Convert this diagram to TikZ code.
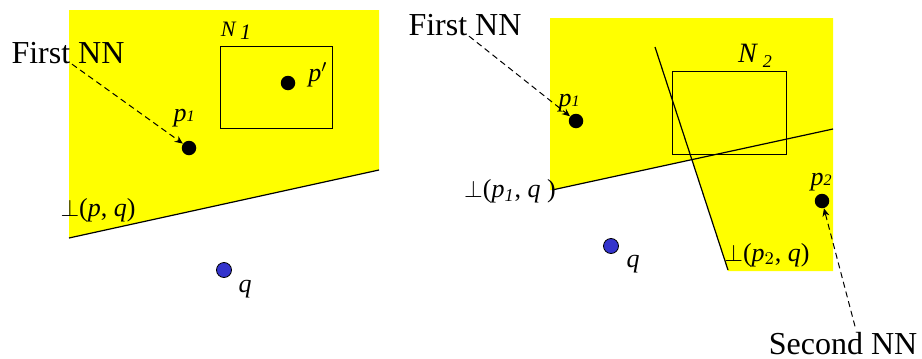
\documentclass[tikz,border=0pt]{standalone}
\usepackage{fontspec}
\setmainfont{Liberation Serif}
\usepackage{xcolor}
\definecolor{regionyellow}{RGB}{255, 255, 0}
\definecolor{querblue}{RGB}{51, 51, 204}
\usepackage{tikz}
\usetikzlibrary{arrows.meta, positioning, calc}

\tikzset{
    ptdot/.style={circle, fill=black, inner sep=0pt, minimum size=14.5pt*0.5},
    qdot/.style={circle, fill=querblue, draw=black, line width=0.4pt, inner sep=0pt, minimum size=15pt*0.5},
    lbl/.style={inner sep=0pt, font=\fontsize{13}{15}\selectfont},
    nnlbl/.style={inner sep=0pt, font=\fontsize{16}{18}\selectfont},
    nnarrow/.style={dashed, -{Stealth[length=4pt, width=3.5pt]}, line width=0.5pt, dash pattern=on 3pt off 2pt},
    bisector/.style={line width=0.6pt, black},
    mbr/.style={line width=0.5pt, black}
}

\begin{document}
\begin{tikzpicture}[x=0.5pt, y=-0.5pt]
    \useasboundingbox (0,0) rectangle (922,359);

    % left panel: first NN found
    \coordinate (L1) at (69,238);
    \coordinate (L2) at (379,170);
    \fill[regionyellow] (69,10) -- (379,10) -- (L2) -- (L1) -- cycle;
    \draw[bisector] (L1) -- (L2);
    \draw[mbr] (220,46) rectangle (332,128);

    \node[ptdot] (pprime) at (288,83) {};
    \node[ptdot] (p1a) at (189,148) {};
    \node[qdot] (qa) at (224,270) {};

    \node[lbl, font=\fontsize{11}{13}\selectfont] (n1) at (236,31) {\textit{N}\,\raisebox{-0.35ex}{\itshape 1}};
    \node[lbl] (pprimelbl) at (318,75) {\textit{p}$'$};
    \node[lbl] (p1albl) at (184,118) {\textit{p}{\footnotesize\itshape 1}};
    \node[lbl] (qalbl) at (245,289) {\textit{q}};
    \node[lbl] (bisa) at (98,210) {$\perp$(\textit{p}, \textit{q})};
    \node[nnlbl] (first1) at (68,53) {First NN};
    \draw[nnarrow] ([xshift=2pt]first1.south) -- (p1a);

    % right panel: second NN found
    \coordinate (B1s) at (552,190);
    \coordinate (B1e) at (833,129);
    \coordinate (B2s) at (655,47);
    \coordinate (B2e) at (728,270);
    \coordinate (X) at (intersection of B1s--B1e and B2s--B2e);
    \fill[regionyellow] (550,18) -- (833,18) -- (833,271) -- (728,271) -- (X) -- (B1s) -- (550,190) -- cycle;
    \draw[bisector] (B1s) -- (B1e);
    \draw[bisector] (B2s) -- (B2e);
    \draw[mbr] (672,71) rectangle (786,154);

    \node[ptdot] (p1b) at (576,121) {};
    \node[ptdot] (p2b) at (822,201) {};
    \node[qdot] (qb) at (611,246) {};

    \node[lbl, font=\fontsize{14}{16}\selectfont] (n2) at (755,56) {\textit{N}\,\raisebox{-0.35ex}{\small\itshape 2}};
    \node[lbl] (p1blbl) at (569,103) {\textit{p}{\footnotesize\itshape 1}};
    \node[lbl] (p2blbl) at (821,182) {\textit{p}{\footnotesize\itshape 2}};
    \node[lbl] (qblbl) at (633,264) {\textit{q}};
    \node[lbl] (bisb) at (510,191) {$\perp$(\textit{p}$_{\mathit{1}}$, \textit{q} )};
    \node[lbl] (bisc) at (767,255) {$\perp$(\textit{p}$_{2}$, \textit{q})};
    \node[nnlbl] (first2) at (465,25) {First NN};
    \node[nnlbl] (second) at (843,344) {Second NN};
    \draw[nnarrow] ([xshift=2pt]first2.south) -- (p1b);
    \draw[nnarrow] ([xshift=6pt, yshift=3pt]second.north) -- (p2b);
\end{tikzpicture}
\end{document}
